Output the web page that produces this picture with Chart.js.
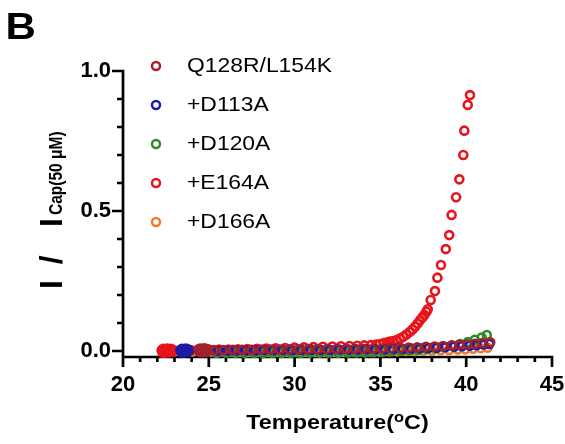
<!DOCTYPE html>
<html>
<head>
<meta charset="utf-8">
<script src="https://cdn.jsdelivr.net/npm/chart.js@4.4.1/dist/chart.umd.min.js"></script>
<style>
  html, body { margin: 0; padding: 0; background: #fff; }
  #wrap { width: 565px; height: 444px; }
</style>
</head>
<body>
<div id="wrap"><canvas id="chart" width="565" height="444"></canvas></div>
<script>
const seriesNames = ['Q128R/L154K', '+D113A', '+D120A', '+E164A', '+D166A'];
const seriesColors = ['#a3202d', '#1c1caa', '#2b8a2b', '#e8141c', '#ef7c2e'];

// temperature (°C) and normalised current for each construct
const tempQ128R = [24.4, 24.45, 24.5, 24.55, 24.6, 24.65, 24.7, 24.75, 24.8, 24.85, 24.9, 24.95,
  25.3, 25.85, 26.4, 26.95, 27.5, 28.05, 28.6, 29.15, 29.7, 30.25, 30.8, 31.35, 31.9, 32.45, 33.0,
  33.5, 34.0, 34.55, 35.1, 35.6, 36.15, 36.65, 37.15, 37.65, 38.15, 38.65, 39.15, 39.6, 40.05, 40.5,
  40.95, 41.4];
const valQ128R = [0.006, -0.003, 0.009, 0.002, -0.004, 0.008, 0.001, 0.010, 0.003, -0.003, 0.007, 0.002,
  0.003, 0.003, 0.004, 0.004, 0.004, 0.005, 0.005, 0.005, 0.006, 0.006, 0.006, 0.006, 0.007, 0.007, 0.007,
  0.008, 0.008, 0.008, 0.009, 0.010, 0.011, 0.012, 0.013, 0.015, 0.016, 0.018, 0.020, 0.022, 0.024, 0.026,
  0.028, 0.031];

const tempD113A = [23.35, 23.4, 23.44, 23.48, 23.52, 23.56, 23.6, 23.64, 23.68, 23.72, 23.76, 23.8, 23.85,
  25.55, 26.1, 26.6, 27.15, 27.7, 28.2, 28.75, 29.3, 29.85, 30.4, 30.95, 31.5, 32.05, 32.6, 33.15,
  33.65, 34.15, 34.7, 35.25, 35.75, 36.3, 36.8, 37.3, 37.8, 38.3, 38.8, 39.3, 39.75, 40.2, 40.6,
  41.0, 41.35];
const valD113A = [0.004, -0.004, 0.008, 0.001, -0.005, 0.007, 0.002, -0.003, 0.009, 0.000, 0.006, -0.002, 0.003,
  0.001, 0.001, 0.002, 0.002, 0.002, 0.003, 0.003, 0.003, 0.003, 0.004, 0.004, 0.004, 0.004, 0.005, 0.005,
  0.005, 0.006, 0.006, 0.006, 0.007, 0.008, 0.009, 0.010, 0.011, 0.012, 0.014, 0.015, 0.017, 0.019, 0.021,
  0.023, 0.025];

const tempD120A = [24.45, 24.55, 24.65, 24.75, 24.85,
  25.45, 26.0, 26.55, 27.1, 27.65, 28.15, 28.7, 29.25, 29.8, 30.35, 30.9, 31.45, 32.0, 32.55, 33.1,
  33.6, 34.1, 34.6, 35.15, 35.65, 36.2, 36.7, 37.2, 37.7, 38.2, 38.7, 39.2, 39.65, 40.1, 40.5,
  40.9, 41.2];
const valD120A = [0.002, 0.002, 0.002, 0.002, 0.002,
  -0.006, -0.006, -0.007, -0.007, -0.007, -0.007, -0.007, -0.007, -0.007, -0.007, -0.006, -0.006, -0.006, -0.006, -0.005,
  -0.005, -0.005, -0.004, -0.003, -0.002, 0.000, 0.002, 0.004, 0.007, 0.010, 0.014, 0.019, 0.025, 0.032, 0.040,
  0.048, 0.057];

const tempE164A = [22.25, 22.3, 22.34, 22.38, 22.42, 22.46, 22.5, 22.54, 22.58, 22.62, 22.66, 22.7, 22.75, 22.8, 22.86, 22.92,
  23.4, 23.95, 24.5, 25.05, 25.6, 26.15, 26.7, 27.25, 27.8, 28.35, 28.9, 29.45, 30.0, 30.55, 31.1,
  31.65, 32.2, 32.7, 33.2, 33.65, 34.05, 34.45, 34.75, 34.98, 35.2, 35.4, 35.56, 35.75, 35.95, 36.15,
  36.33, 36.52, 36.72, 36.87, 37.02, 37.17, 37.31, 37.44, 37.56, 37.68, 37.76, 37.93, 38.18, 38.32,
  38.53, 38.81, 39.01, 39.15, 39.41, 39.6, 39.83, 39.89, 40.09, 40.22];
const valE164A = [0.003, -0.005, 0.008, 0.000, -0.006, 0.007, 0.001, -0.003, 0.009, 0.003, -0.004, 0.006, 0.000, 0.008, -0.002, 0.003,
  0.002, 0.003, 0.003, 0.004, 0.005, 0.005, 0.006, 0.007, 0.008, 0.009, 0.010, 0.011, 0.012, 0.013, 0.014,
  0.015, 0.016, 0.017, 0.018, 0.019, 0.020, 0.021, 0.023, 0.025, 0.028, 0.031, 0.034, 0.036, 0.039, 0.045,
  0.051, 0.059, 0.069, 0.077, 0.087, 0.098, 0.110, 0.120, 0.129, 0.140, 0.149, 0.182, 0.214, 0.262,
  0.307, 0.364, 0.414, 0.486, 0.549, 0.613, 0.700, 0.787, 0.879, 0.914];

const tempD166A = [22.5, 22.6, 22.7, 22.8, 22.9, 22.98, 23.05,
  23.5, 24.05, 24.6, 25.15, 25.7, 26.25, 26.8, 27.35, 27.9, 28.45, 29.0, 29.55, 30.1, 30.65, 31.2,
  31.75, 32.3, 32.85, 33.4, 33.9, 34.4, 34.95, 35.5, 36.0, 36.5, 37.0, 37.5, 38.0, 38.5, 39.0,
  39.5, 39.95, 40.4, 40.85, 41.25];
const valD166A = [0.000, 0.003, -0.002, 0.004, 0.001, -0.001, 0.002,
  -0.002, -0.002, -0.002, -0.002, -0.002, -0.002, -0.003, -0.003, -0.003, -0.003, -0.003, -0.003, -0.003, -0.003, -0.003,
  -0.003, -0.003, -0.003, -0.002, -0.002, -0.002, -0.002, -0.001, -0.001, 0.000, 0.000, 0.001, 0.002, 0.003, 0.004,
  0.005, 0.006, 0.008, 0.010, 0.012];

const seriesTemps = [tempQ128R, tempD113A, tempD120A, tempE164A, tempD166A];
const seriesVals = [valQ128R, valD113A, valD120A, valE164A, valD166A];

const xTicks = [20, 21, 22, 23, 24, 25, 26, 27, 28, 29, 30, 31, 32, 33, 34, 35, 36, 37, 38, 39, 40, 41, 42, 43, 44, 45];
const yTicks = [0, 0.1, 0.2, 0.3, 0.4, 0.5, 0.6, 0.7, 0.8, 0.9, 1.0];

const FONT = "'Liberation Sans', Arial, sans-serif";

const isMajorY = v => Math.abs(v * 2 - Math.round(v * 2)) < 1e-9;

// axis lines with long major / short minor ticks
const axisLines = {
  id: 'axisLines',
  beforeDatasetsDraw(chart) {
    const { ctx, scales: { x, y } } = chart;
    const left = x.getPixelForValue(xTicks[0]);
    const right = x.getPixelForValue(xTicks[xTicks.length - 1]);
    const top = y.getPixelForValue(yTicks[yTicks.length - 1]);
    const bottom = chart.chartArea.bottom;
    ctx.save();
    ctx.strokeStyle = '#000';
    ctx.lineWidth = 2.7;
    ctx.beginPath();
    ctx.moveTo(left, top - 1.3);
    ctx.lineTo(left, bottom + 10);
    ctx.moveTo(left - 1.3, bottom);
    ctx.lineTo(right + 1.3, bottom);
    xTicks.forEach(v => {
      const px = x.getPixelForValue(v);
      ctx.moveTo(px, bottom);
      ctx.lineTo(px, bottom + (v % 5 === 0 ? 10 : 5));
    });
    yTicks.forEach(v => {
      const py = y.getPixelForValue(v);
      ctx.moveTo(left, py);
      ctx.lineTo(left - (isMajorY(v) ? 11 : 6), py);
    });
    ctx.stroke();
    ctx.restore();
  }
};

// panel letter, axis titles and the legend block
const annotations = {
  id: 'annotations',
  afterDraw(chart) {
    const { ctx } = chart;
    ctx.save();
    ctx.fillStyle = '#000';
    ctx.textBaseline = 'alphabetic';
    ctx.textAlign = 'left';

    // panel letter
    ctx.save();
    ctx.translate(5.5, 39);
    ctx.scale(1.17, 1);
    ctx.font = `bold 36px ${FONT}`;
    ctx.fillText('B', 0, 0);
    ctx.restore();

    // x title with raised "o"
    const parts = [['Temperature(', 20, 0], ['o', 14, -7], ['C)', 20, 0]];
    const sx = 1.17;
    let total = 0;
    parts.forEach(([t, s]) => { ctx.font = `bold ${s}px ${FONT}`; total += ctx.measureText(t).width * sx; });
    let cx = (chart.chartArea.left + chart.chartArea.right) / 2 - total / 2;
    parts.forEach(([t, s, dy]) => {
      ctx.font = `bold ${s}px ${FONT}`;
      ctx.save();
      ctx.translate(cx, 429 + dy);
      ctx.scale(sx, 1);
      ctx.fillText(t, 0, 0);
      ctx.restore();
      cx += ctx.measureText(t).width * sx;
    });

    // y title, rotated
    ctx.save();
    ctx.translate(62, 289);
    ctx.rotate(-Math.PI / 2);
    ctx.font = `bold 32px ${FONT}`;
    ctx.letterSpacing = '3.5px';
    ctx.fillText('I /  I', 0, 0);
    ctx.letterSpacing = '0px';
    ctx.scale(1, 1.15);
    ctx.font = `bold 15.5px ${FONT}`;
    ctx.fillText('Cap(50 μM)', 74, 0);
    ctx.restore();

    // legend
    chart.data.datasets.forEach((ds, i) => {
      const yRow = 66 + 39 * i;
      ctx.beginPath();
      ctx.arc(156, yRow, 4, 0, Math.PI * 2);
      ctx.lineWidth = 2.5;
      ctx.strokeStyle = ds.pointBorderColor;
      ctx.stroke();
      ctx.save();
      ctx.translate(187, yRow);
      ctx.scale(1.09, 1);
      ctx.font = `21px ${FONT}`;
      ctx.textBaseline = 'middle';
      ctx.fillText(ds.label, 0, 0);
      ctx.restore();
    });
    ctx.restore();
  }
};

const datasets = seriesNames.map((name, i) => ({
  label: name,
  data: seriesTemps[i].map((t, j) => ({ x: t, y: seriesVals[i][j] })),
  showLine: false,
  pointRadius: 4,
  pointHoverRadius: 4,
  pointBorderWidth: 2.6,
  pointBorderColor: seriesColors[i],
  pointBackgroundColor: 'rgba(0,0,0,0)',
  borderColor: seriesColors[i],
  backgroundColor: 'rgba(0,0,0,0)',
  clip: false
}));

const tickFont = { family: FONT, size: 22, weight: 'bold' };

new Chart(document.getElementById('chart'), {
  type: 'scatter',
  data: { datasets },
  options: {
    responsive: false,
    devicePixelRatio: 1,
    animation: false,
    layout: { padding: { top: 71, right: 13, bottom: 0, left: 0 } },
    plugins: { legend: { display: false }, tooltip: { enabled: false } },
    scales: {
      x: {
        type: 'linear',
        min: 20,
        max: 45,
        afterBuildTicks: s => { s.ticks = xTicks.map(v => ({ value: v })); },
        afterFit: s => { s.height = 87; s.paddingLeft = 0; s.paddingRight = 0; },
        grid: { display: false, drawTicks: false },
        border: { display: false },
        ticks: {
          autoSkip: false,
          maxRotation: 0,
          padding: 15,
          color: '#000',
          font: tickFont,
          callback: v => (v % 5 === 0 ? String(v) : '')
        }
      },
      y: {
        type: 'linear',
        min: -0.0214,
        max: 1.0,
        afterBuildTicks: s => { s.ticks = yTicks.map(v => ({ value: v })); },
        afterFit: s => { s.width = 123; s.paddingTop = 0; s.paddingBottom = 0; },
        grid: { display: false, drawTicks: false },
        border: { display: false },
        ticks: {
          autoSkip: false,
          padding: 12,
          color: '#000',
          font: tickFont,
          callback: v => (isMajorY(v) ? v.toFixed(1) : '')
        }
      }
    }
  },
  plugins: [axisLines, annotations]
});
</script>
</body>
</html>
